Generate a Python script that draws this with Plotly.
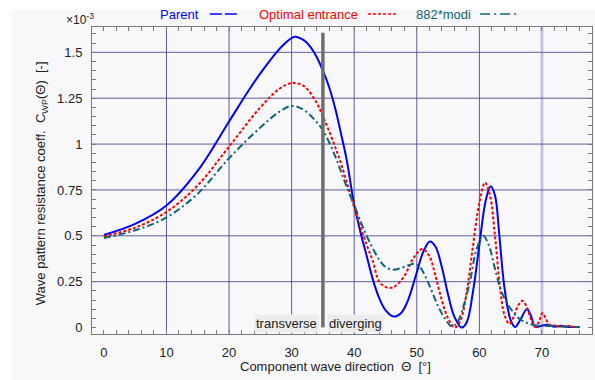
import plotly.graph_objects as go

# Component wave direction (deg) and wave pattern resistance coefficient (x 1e-3)
theta_parent = [0, 5, 10, 15, 20, 23, 25, 27, 28.5, 30.5, 32, 33, 34, 35, 36, 37, 38, 38.8, 40, 41,
                42, 43, 44, 45, 46.3, 47.5, 48.5, 50, 51, 52.1, 53, 54, 55, 56, 57.2, 58, 59, 60, 61,
                61.8, 62.5, 63.2, 64, 65, 65.7, 66.5, 67.6, 68.3, 68.9, 70, 71, 72, 73, 74, 76]
cwp_parent = [0.505, 0.565, 0.665, 0.855, 1.123, 1.285, 1.385, 1.475, 1.535, 1.585, 1.565, 1.53,
              1.475, 1.40, 1.31, 1.19, 1.04, 0.914, 0.67, 0.52, 0.39, 0.26, 0.16, 0.095, 0.06, 0.08,
              0.14, 0.30, 0.41, 0.469, 0.44, 0.33, 0.18, 0.06, 0.0, 0.03, 0.2, 0.45, 0.69, 0.77,
              0.72, 0.5, 0.22, 0.04, 0.003, 0.04, 0.10, 0.06, 0.005, 0.01, 0.015, 0.005, 0.01,
              0.005, 0.003]

theta_optimal = [0, 5, 10, 15, 20, 25, 28, 30, 32, 34, 35, 36, 37, 37.7, 39, 40, 41, 42, 43, 44,
                 45, 45.7, 46.5, 48, 49.5, 50.9, 52, 53, 54, 55, 56.1, 57, 58, 59, 60, 60.9, 61.7,
                 62.5, 63.3, 64, 64.8, 65.5, 66.2, 66.9, 67.6, 68.3, 69, 69.6, 70.1, 70.6, 71.3, 72,
                 73, 74, 75, 76]
cwp_optimal = [0.497, 0.545, 0.63, 0.775, 0.986, 1.20, 1.30, 1.332, 1.315, 1.225, 1.15, 1.07, 0.98,
               0.914, 0.77, 0.655, 0.55, 0.45, 0.36, 0.25, 0.222, 0.216, 0.225, 0.28, 0.38, 0.428,
               0.39, 0.28, 0.15, 0.05, 0.0, 0.04, 0.2, 0.45, 0.68, 0.79, 0.72, 0.5, 0.22, 0.07, 0.02,
               0.06, 0.12, 0.146, 0.11, 0.04, 0.003, 0.04, 0.079, 0.05, 0.01, 0.012, 0.005, 0.01,
               0.005, 0.002]

theta_modi = [0, 5, 10, 15, 20, 25, 28, 30, 32, 34, 35, 36, 37.2, 38, 39, 40, 41, 42, 43, 44,
              45, 46.2, 47.5, 48.7, 49.7, 50.5, 51.5, 52.5, 53.5, 54.5, 55.6, 56.5, 57.5, 58.5,
              59.5, 60.6, 61.5, 62.5, 63.5, 64.4, 65.5, 66.5, 67.3, 68.5, 70, 72, 74, 76]
cwp_modi = [0.488, 0.53, 0.60, 0.73, 0.923, 1.09, 1.175, 1.208, 1.185, 1.12, 1.075, 1.01,
            0.914, 0.84, 0.75, 0.668, 0.58, 0.50, 0.43, 0.37, 0.33, 0.315, 0.325, 0.34, 0.348,
            0.33, 0.27, 0.19, 0.11, 0.05, 0.006, 0.03, 0.12, 0.25, 0.42, 0.50, 0.45, 0.32, 0.2,
            0.134, 0.08, 0.045, 0.03, 0.015, 0.01, 0.008, 0.005, 0.003]

x_ticks = [0, 10, 20, 30, 40, 50, 60, 70]
y_ticks = [0, 0.25, 0.5, 0.75, 1, 1.25, 1.5]
y_tick_text = ["0", "0.25", "0.5", "0.75", "1", "1.25", "1.5"]
theta_split = 35

BLUE, RED, TEAL = "#0000ff", "#ff0000", "#0e6672"
GRID = "#5c5c9c"
FONT = "Liberation Sans, Arial, sans-serif"

fig = go.Figure()
fig.add_trace(go.Scatter(x=theta_parent, y=cwp_parent, mode="lines", name="Parent",
                         line=dict(color=BLUE, width=2, shape="spline", smoothing=1)))
fig.add_trace(go.Scatter(x=theta_optimal, y=cwp_optimal, mode="lines", name="Optimal entrance",
                         line=dict(color=RED, width=2, dash="3px,2px", shape="spline", smoothing=1)))
fig.add_trace(go.Scatter(x=theta_modi, y=cwp_modi, mode="lines", name="882*modi",
                         line=dict(color=TEAL, width=2, dash="7px,3px,2px,3px", shape="spline",
                                   smoothing=1)))

shapes = []
# light frame behind everything
shapes.append(dict(type="rect", xref="paper", yref="paper", x0=-0.161, x1=1.01, y0=-0.16, y1=1.055,
                   fillcolor="#f8f8fb", line=dict(width=0), layer="below"))
# grid lines (major ticks, none at zero)
for xv in x_ticks[1:]:
    light = xv == 70
    shapes.append(dict(type="line", xref="x", yref="paper", x0=xv, x1=xv, y0=0, y1=1,
                       line=dict(color="#c4c4de" if light else GRID, width=3 if light else 1),
                       layer="below"))
for yv in y_ticks[1:]:
    shapes.append(dict(type="line", xref="paper", yref="y", x0=0, x1=1, y0=yv, y1=yv,
                       line=dict(color=GRID, width=1), layer="below"))
# transverse / diverging separator
shapes.append(dict(type="line", xref="x", yref="y", x0=theta_split, x1=theta_split, y0=0, y1=1.607,
                   line=dict(color="#6e6e6e", width=3.5)))

# legend line samples
def px_x(p):
    return (p - 92.3) / 499.4

ly = (334.3 - 14) / 307.3
shapes.append(dict(type="line", xref="paper", yref="paper", x0=px_x(210), x1=px_x(238), y0=ly, y1=ly,
                   line=dict(color=BLUE, width=1.5, dash="12px,3px")))
shapes.append(dict(type="line", xref="paper", yref="paper", x0=px_x(368), x1=px_x(397), y0=ly, y1=ly,
                   line=dict(color=RED, width=1.5, dash="3px,2px")))
shapes.append(dict(type="line", xref="paper", yref="paper", x0=px_x(480), x1=px_x(520), y0=ly, y1=ly,
                   line=dict(color=TEAL, width=1.5, dash="10px,4px,2px,4px")))

annotations = [
    dict(text="Parent", x=px_x(201), y=ly, xref="paper", yref="paper", xanchor="right",
         yanchor="middle", showarrow=False, font=dict(color=BLUE, size=13, family=FONT)),
    dict(text="Optimal entrance", x=px_x(360), y=ly, xref="paper", yref="paper", xanchor="right",
         yanchor="middle", showarrow=False, font=dict(color=RED, size=13, family=FONT)),
    dict(text="882*modi", x=px_x(473), y=ly, xref="paper", yref="paper", xanchor="right",
         yanchor="middle", showarrow=False, font=dict(color=TEAL, size=13, family=FONT)),
    dict(text="×10<sup>-3</sup>", x=px_x(80), y=(334.3 - 19) / 307.3, xref="paper", yref="paper",
         xanchor="center", yanchor="middle", showarrow=False,
         font=dict(color="#222", size=12, family=FONT)),
    dict(text="Wave pattern resistance coeff.  C<sub>WP</sub>(Θ)  [-]", textangle=-90,
         x=px_x(42.7), y=(334.3 - 183) / 307.3, xref="paper", yref="paper", xanchor="center",
         yanchor="middle", showarrow=False, font=dict(color="#222", size=13, family=FONT)),
    dict(text="Component wave direction  Θ  [°]", x=px_x(336), y=(334.3 - 367) / 307.3,
         xref="paper", yref="paper", xanchor="center", yanchor="middle", showarrow=False,
         font=dict(color="#222", size=13, family=FONT)),
    dict(text="transverse", x=theta_split, y=0.02, xref="x", yref="y", xanchor="right",
         yanchor="middle", xshift=-4, showarrow=False, bgcolor="#ececec", borderpad=1,
         font=dict(color="#222", size=13, family=FONT)),
    dict(text="diverging", x=theta_split, y=0.02, xref="x", yref="y", xanchor="left",
         yanchor="middle", xshift=4, showarrow=False, bgcolor="#ececec", borderpad=1,
         font=dict(color="#222", size=13, family=FONT)),
]

axis_common = dict(showgrid=False, zeroline=False, showline=True, linecolor="#7a7a7a",
                   linewidth=1, mirror="ticks", ticks="inside", ticklen=4, tickcolor="#7a7a7a",
                   tickfont=dict(color="#222", size=13, family=FONT))

fig.update_layout(
    width=595, height=380,
    margin=dict(l=92, r=3, t=27, b=46),
    paper_bgcolor="white", plot_bgcolor="#f8f8fc",
    showlegend=False,
    shapes=shapes, annotations=annotations,
    xaxis=dict(range=[-1.9, 78], tickmode="array", tickvals=x_ticks, ticklabelstandoff=6,
               minor=dict(dtick=2, ticks="inside", ticklen=4, tickcolor="#7a7a7a"),
               **axis_common),
    yaxis=dict(range=[-0.035, 1.638], tickmode="array", tickvals=y_ticks, ticktext=y_tick_text,
               ticklabelstandoff=6,
               minor=dict(dtick=0.05, ticks="inside", ticklen=4, tickcolor="#7a7a7a"),
               **axis_common),
)

fig.write_html("out.html")
